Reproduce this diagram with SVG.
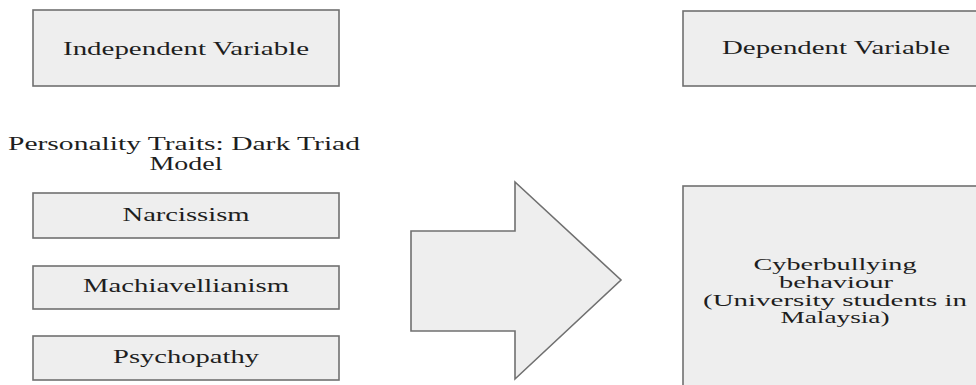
<svg xmlns="http://www.w3.org/2000/svg" width="976" height="385" viewBox="0 0 976 385">
<style>
.box{fill:#eeeeee;stroke:#707070;stroke-width:1.6}
.t{font-family:"Liberation Serif","Times New Roman",serif;font-size:18.5px;fill:#1e1e1e;text-anchor:middle}
.s{font-size:17px}
</style>
<rect width="976" height="385" fill="#ffffff"/>
<g id="independent"><rect class="box" x="33" y="10" width="306" height="76"/><text class="t" x="186" y="55" textLength="246" lengthAdjust="spacingAndGlyphs">Independent Variable</text></g>
<g id="dependent"><rect class="box" x="683" y="11" width="300" height="75"/><text class="t" x="836" y="54" textLength="228" lengthAdjust="spacingAndGlyphs">Dependent Variable</text></g>
<g id="heading"><text class="t" x="184" y="150" textLength="352" lengthAdjust="spacingAndGlyphs">Personality Traits: Dark Triad</text><text class="t" x="186" y="170" textLength="73" lengthAdjust="spacingAndGlyphs">Model</text></g>
<g id="narcissism"><rect class="box" x="33" y="193" width="306" height="45"/><text class="t" x="186" y="221" textLength="127" lengthAdjust="spacingAndGlyphs">Narcissism</text></g>
<g id="machiavellianism"><rect class="box" x="33" y="266" width="306" height="43"/><text class="t" x="186" y="292" textLength="206" lengthAdjust="spacingAndGlyphs">Machiavellianism</text></g>
<g id="psychopathy"><rect class="box" x="33" y="336" width="306" height="44"/><text class="t" x="186" y="363" textLength="146" lengthAdjust="spacingAndGlyphs">Psychopathy</text></g>
<g id="connectors"><polygon class="box" points="411,231 515,231 515,182 621,280 515,379 515,331 411,331"/></g>
<g id="cyberbullying"><rect class="box" x="683" y="186" width="300" height="210"/>
<text class="t s" x="835" y="270" textLength="163" lengthAdjust="spacingAndGlyphs">Cyberbullying</text>
<text class="t s" x="836" y="288" textLength="114" lengthAdjust="spacingAndGlyphs">behaviour</text>
<text class="t s" x="835" y="305.5" textLength="264" lengthAdjust="spacingAndGlyphs">(University students in</text>
<text class="t s" x="835" y="323" textLength="109" lengthAdjust="spacingAndGlyphs">Malaysia)</text></g>
</svg>
